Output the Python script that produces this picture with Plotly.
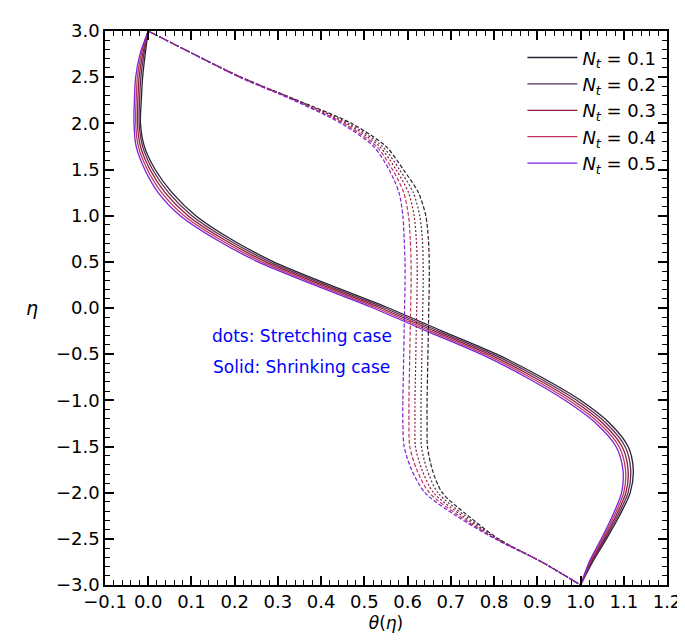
import plotly.graph_objects as go

# eta grid shared by every curve
eta = [3.0, 2.75, 2.5, 2.25, 2.0, 1.75, 1.5, 1.25, 1.0, 0.75, 0.5, 0.25, 0.0,
       -0.25, -0.5, -0.75, -1.0, -1.25, -1.5, -1.75, -2.0, -2.25, -2.5, -2.75, -3.0]

nt_values = [0.1, 0.2, 0.3, 0.4, 0.5]
colors = ["#26202e", "#5b2d55", "#8a1c3c", "#c2345e", "#7a22d6"]

# shrinking case (solid)
shrink_01 = [0.0, -0.007, -0.013, -0.016, -0.018, -0.009, 0.016, 0.055, 0.11, 0.19, 0.29, 0.42, 0.556,
             0.68, 0.806, 0.91, 1.0, 1.068, 1.11, 1.122, 1.115, 1.09, 1.06, 1.028, 1.0]
shrink_02 = [0.0, -0.010, -0.017, -0.020, -0.021, -0.013, 0.010, 0.047, 0.101, 0.181, 0.281, 0.411, 0.547,
             0.671, 0.797, 0.901, 0.991, 1.060, 1.103, 1.116, 1.110, 1.086, 1.057, 1.026, 1.0]
shrink_03 = [0.0, -0.013, -0.021, -0.024, -0.025, -0.018, 0.004, 0.039, 0.092, 0.172, 0.272, 0.402, 0.538,
             0.662, 0.788, 0.892, 0.982, 1.052, 1.096, 1.110, 1.105, 1.082, 1.054, 1.024, 1.0]
shrink_04 = [0.0, -0.016, -0.025, -0.028, -0.029, -0.023, -0.002, 0.031, 0.083, 0.163, 0.263, 0.393, 0.529,
             0.653, 0.779, 0.883, 0.973, 1.044, 1.089, 1.104, 1.100, 1.078, 1.051, 1.022, 1.0]
shrink_05 = [0.0, -0.019, -0.029, -0.032, -0.033, -0.028, -0.008, 0.023, 0.074, 0.154, 0.254, 0.384, 0.520,
             0.644, 0.770, 0.874, 0.964, 1.036, 1.082, 1.098, 1.095, 1.074, 1.048, 1.020, 1.0]

# stretching case (dashed / dotted)
stretch_01 = [0.0, 0.105, 0.215, 0.345, 0.47, 0.55, 0.59, 0.625, 0.642, 0.648, 0.65, 0.65, 0.649,
              0.648, 0.647, 0.646, 0.645, 0.645, 0.646, 0.657, 0.68, 0.74, 0.81, 0.91, 1.0]
stretch_02 = [0.0, 0.105, 0.214, 0.343, 0.464, 0.542, 0.581, 0.613, 0.628, 0.634, 0.636, 0.636, 0.635,
              0.634, 0.633, 0.632, 0.631, 0.631, 0.632, 0.645, 0.670, 0.733, 0.808, 0.91, 1.0]
stretch_03 = [0.0, 0.105, 0.213, 0.341, 0.458, 0.535, 0.573, 0.602, 0.615, 0.620, 0.622, 0.622, 0.621,
              0.620, 0.619, 0.618, 0.617, 0.617, 0.618, 0.633, 0.660, 0.726, 0.806, 0.91, 1.0]
stretch_04 = [0.0, 0.105, 0.212, 0.339, 0.452, 0.528, 0.565, 0.591, 0.602, 0.606, 0.608, 0.608, 0.607,
              0.606, 0.605, 0.604, 0.603, 0.603, 0.605, 0.621, 0.650, 0.719, 0.804, 0.91, 1.0]
stretch_05 = [0.0, 0.105, 0.211, 0.336, 0.446, 0.521, 0.557, 0.580, 0.589, 0.592, 0.594, 0.594, 0.593,
              0.592, 0.591, 0.590, 0.589, 0.589, 0.592, 0.609, 0.640, 0.712, 0.802, 0.91, 1.0]

shrink = [shrink_01, shrink_02, shrink_03, shrink_04, shrink_05]
stretch = [stretch_01, stretch_02, stretch_03, stretch_04, stretch_05]
stretch_dash = ["4px,2px", "2px,2px", "2px,2px", "4px,2px", "4px,2px"]

fig = go.Figure()
for nt, col, th in zip(nt_values, colors, shrink):
    fig.add_trace(go.Scatter(x=th, y=eta, mode="lines",
                             line=dict(color=col, width=1.3, shape="spline", smoothing=0.8),
                             name=f"<i>N</i><sub><i>t</i></sub> = {nt}"))
for col, th, ds in zip(colors, stretch, stretch_dash):
    fig.add_trace(go.Scatter(x=th, y=eta, mode="lines", showlegend=False,
                             line=dict(color=col, width=1.2, dash=ds, shape="spline", smoothing=0.8)))

fig.add_annotation(x=0.355, y=-0.3, text="dots: Stretching case", showarrow=False,
                   font=dict(color="blue", size=17))
fig.add_annotation(x=0.355, y=-0.64, text="Solid: Shrinking case", showarrow=False,
                   font=dict(color="blue", size=17))

axis = dict(showline=True, linecolor="black", linewidth=1.5, mirror="ticks", ticks="inside",
            ticklen=9, tickwidth=1.5, tickcolor="black", showgrid=False, zeroline=False,
            tickfont=dict(size=18, color="black"),
            minor=dict(ticks="inside", ticklen=5, tickcolor="black", tickwidth=1))
fig.update_xaxes(axis, range=[-0.1, 1.2], dtick=0.1, tick0=-0.1, tickformat=".1f",
                 minor_dtick=0.02, title=dict(text="<i>θ</i>(<i>η</i>)", font=dict(size=17), standoff=6))
fig.update_yaxes(axis, range=[-3, 3], dtick=0.5, tickformat=".1f", minor_dtick=0.1)
fig.add_annotation(xref="paper", yref="paper", x=-0.145, y=0.5, text="<i>η</i>", showarrow=False,
                   font=dict(size=19, color="black"))

fig.update_layout(
    width=685, height=643, template="simple_white", plot_bgcolor="white",
    margin=dict(l=97, r=17, t=17, b=66),
    font=dict(family="DejaVu Sans", color="black"),
    legend=dict(x=0.99, y=0.985, xanchor="right", yanchor="top", font=dict(size=18),
                bgcolor="rgba(255,255,255,0)", tracegroupgap=2, itemwidth=50),
)
fig.write_html("out.html")
